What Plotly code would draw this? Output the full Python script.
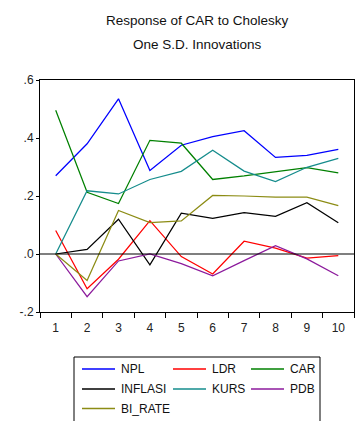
import plotly.graph_objects as go

periods = list(range(1, 11))

npl = [0.270, 0.380, 0.535, 0.288, 0.375, 0.405, 0.425, 0.333, 0.340, 0.361]
ldr = [0.081, -0.120, -0.018, 0.115, -0.009, -0.069, 0.044, 0.020, -0.014, -0.006]
car = [0.496, 0.213, 0.174, 0.392, 0.382, 0.257, 0.269, 0.284, 0.298, 0.280]
inflasi = [0.0, 0.016, 0.120, -0.037, 0.141, 0.123, 0.143, 0.130, 0.177, 0.108]
kurs = [0.0, 0.218, 0.207, 0.257, 0.285, 0.358, 0.286, 0.250, 0.299, 0.330]
pdb = [0.0, -0.147, -0.024, 0.0, -0.033, -0.075, -0.023, 0.029, -0.017, -0.075]
bi_rate = [0.0, -0.091, 0.150, 0.108, 0.114, 0.202, 0.200, 0.196, 0.196, 0.167]

series = [
    ("NPL", npl, "#0000FF"),
    ("LDR", ldr, "#FF0000"),
    ("CAR", car, "#008000"),
    ("INFLASI", inflasi, "#000000"),
    ("KURS", kurs, "#158C8C"),
    ("PDB", pdb, "#8C1A9C"),
    ("BI_RATE", bi_rate, "#8C8C14"),
]

y_ticks = [-0.2, 0.0, 0.2, 0.4, 0.6]
y_tick_text = ["-.2", ".0", ".2", ".4", ".6"]

font = "Liberation Sans Narrow, Arial Narrow, Liberation Sans, sans-serif"

W, H = 360, 421
ML, MR, MT, MB = 40, 6, 80, 109
PW, PH = W - ML - MR, H - MT - MB


def px_x(px):
    """Pixel column -> paper x."""
    return (px - ML) / PW


def px_y(py):
    """Pixel row -> paper y."""
    return (H - MB - py) / PH


fig = go.Figure()
for name, vals, color in series:
    fig.add_trace(go.Scatter(
        x=periods, y=vals, name=name, mode="lines",
        line=dict(color=color, width=1.25), showlegend=False,
    ))

shapes = [
    # zero reference line
    dict(type="line", xref="paper", x0=0, x1=1, yref="y", y0=0, y1=0,
         line=dict(color="black", width=1.2), layer="above"),
    # legend frame (runs past the lower edge of the page)
    dict(type="rect", xref="paper", yref="paper",
         x0=px_x(74), x1=px_x(320), y0=px_y(357), y1=px_y(440),
         line=dict(color="black", width=1), fillcolor="white", layer="below"),
]
annotations = [
    dict(text="Response of CAR to Cholesky", xref="paper", yref="paper",
         x=0.5, y=px_y(20), showarrow=False, yanchor="middle",
         font=dict(family=font, size=13.5, color="#111111")),
    dict(text="One S.D. Innovations", xref="paper", yref="paper",
         x=0.5, y=px_y(45), showarrow=False, yanchor="middle",
         font=dict(family=font, size=13.5, color="#111111")),
]

# three-column legend key
col_line_x = [82, 173, 251]
row_y = [369, 389, 408.5]
for i, (name, _, color) in enumerate(series):
    r, c = divmod(i, 3)
    x0 = col_line_x[c]
    yy = px_y(row_y[r])
    shapes.append(dict(type="line", xref="paper", yref="paper",
                       x0=px_x(x0), x1=px_x(x0 + 33), y0=yy, y1=yy,
                       line=dict(color=color, width=1.5)))
    annotations.append(dict(text=name, xref="paper", yref="paper",
                            x=px_x(x0 + 37), y=yy, xanchor="left", yanchor="middle",
                            showarrow=False,
                            font=dict(family=font, size=12, color="#111111")))

fig.update_layout(
    width=W, height=H,
    margin=dict(l=ML, r=MR, t=MT, b=MB, autoexpand=False),
    paper_bgcolor="white", plot_bgcolor="white",
    font=dict(family=font, size=12, color="#222222"),
    showlegend=False,
    shapes=shapes,
    annotations=annotations,
)

fig.update_xaxes(
    range=[0.5, 10.5], tickvals=periods, ticktext=[str(p) for p in periods],
    ticks="", showgrid=False, zeroline=False,
    showline=True, mirror=True, linecolor="black", linewidth=1,
    minor=dict(tickvals=[p - 0.5 for p in periods] + [10.5], ticks="outside",
               ticklen=5, tickcolor="black", tickwidth=1, showgrid=False),
    tickfont=dict(size=12), ticklabelstandoff=5,
)
fig.update_yaxes(
    range=[-0.2, 0.6], tickvals=y_ticks, ticktext=y_tick_text,
    ticks="outside", ticklen=3, tickcolor="black",
    showgrid=False, zeroline=False,
    showline=True, mirror=True, linecolor="black", linewidth=1,
    tickfont=dict(size=12),
)

fig.write_html("out.html")
